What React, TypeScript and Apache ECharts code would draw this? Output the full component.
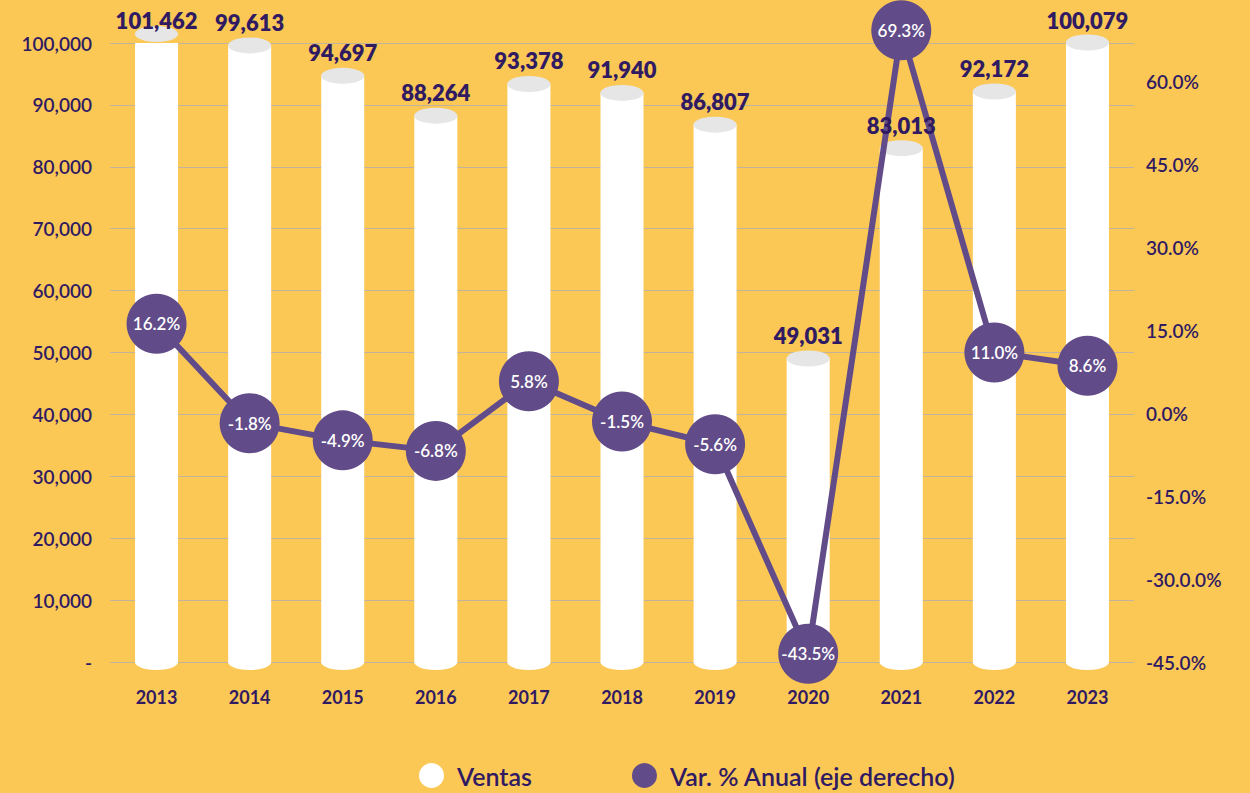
import React, { useEffect, useRef } from "react";
import * as echarts from "echarts";

const years = ["2013", "2014", "2015", "2016", "2017", "2018", "2019", "2020", "2021", "2022", "2023"];
const ventas = [101462, 99613, 94697, 88264, 93378, 91940, 86807, 49031, 83013, 92172, 100079];
const variacion = [16.2, -1.8, -4.9, -6.8, 5.8, -1.5, -5.6, -43.5, 69.3, 11.0, 8.6];
const rightTickLabels = ["-45.0%", "-30.0.0%", "-15.0%", "0.0%", "15.0%", "30.0%", "45.0%", "60.0%"];
const seriesNames = ["Ventas", "Var. % Anual (eje derecho)"];

const BG = "#FBC856";
const DARK = "#301a62";
const PURPLE = "#614b88";
const FONT = "Lato, 'Open Sans', sans-serif";

export default function App() {
  const ref = useRef<HTMLDivElement>(null);
  useEffect(() => {
    const chart = echarts.init(ref.current!, null, { renderer: "svg" });
    chart.setOption({
      animation: false,
      backgroundColor: BG,
      textStyle: { fontFamily: FONT },
      grid: { left: 110, right: 116, top: 43, bottom: 131 },
      legend: {
        data: [
          { name: seriesNames[0], itemStyle: { color: "#ffffff" } },
          { name: seriesNames[1], itemStyle: { color: PURPLE } },
        ],
        icon: "circle",
        itemWidth: 25,
        itemHeight: 25,
        itemGap: 100,
        left: 414,
        top: 758,
        textStyle: {
          color: DARK,
          fontSize: 25,
          fontWeight: 600,
          fontFamily: FONT,
          padding: [0, 0, 0, 8],
        },
      },
      xAxis: {
        type: "category",
        data: years,
        axisLine: { show: false },
        axisTick: { show: false },
        axisLabel: { color: DARK, fontSize: 18, fontWeight: 700, margin: 26, fontFamily: FONT },
      },
      yAxis: [
        {
          type: "value",
          min: 0,
          max: 100000,
          interval: 10000,
          axisLine: { show: false },
          axisTick: { show: false },
          splitLine: { lineStyle: { color: "#c4b39c", width: 1 } },
          axisLabel: {
            color: DARK,
            fontSize: 19,
            fontWeight: 600,
            margin: 18,
            fontFamily: FONT,
            formatter: (v: number) => (v === 0 ? "-" : v.toLocaleString("en-US")),
          },
        },
        {
          type: "value",
          min: -45,
          max: 67,
          interval: 15,
          axisLine: { show: false },
          axisTick: { show: false },
          splitLine: { show: false },
          axisLabel: {
            color: DARK,
            fontSize: 19,
            fontWeight: 600,
            margin: 12,
            fontFamily: FONT,
            showMaxLabel: false,
            formatter: (v: number) => {
              const i = Math.round((v + 45) / 15);
              return Math.abs((v + 45) / 15 - i) < 1e-6 && rightTickLabels[i] ? rightTickLabels[i] : "";
            },
          },
        },
      ],
      series: [
        {
          name: seriesNames[0],
          type: "bar",
          data: ventas,
          barWidth: 43,
          itemStyle: { color: "#ffffff" },
          z: 2,
        },
        {
          name: "top",
          type: "pictorialBar",
          data: ventas,
          symbol: "circle",
          symbolSize: [43, 16],
          symbolPosition: "end",
          symbolOffset: [0, "-50%"],
          itemStyle: { color: "#e6e6e6" },
          z: 3,
          silent: true,
        },
        {
          name: "bottom",
          type: "pictorialBar",
          data: ventas,
          symbol: "circle",
          symbolSize: [43, 16],
          symbolPosition: "start",
          symbolOffset: [0, "50%"],
          itemStyle: { color: "#ffffff" },
          z: 1,
          silent: true,
        },
        {
          name: seriesNames[1],
          type: "line",
          yAxisIndex: 1,
          data: variacion,
          symbol: "circle",
          symbolSize: 60,
          clip: false,
          lineStyle: { color: PURPLE, width: 6 },
          itemStyle: { color: PURPLE },
          z: 5,
          label: {
            show: true,
            position: "inside",
            color: "#ffffff",
            fontSize: 17,
            fontWeight: 600,
            fontFamily: FONT,
            formatter: (p: any) => p.value.toFixed(1) + "%",
          },
        },
        {
          name: "labels",
          type: "bar",
          data: ventas,
          barWidth: 43,
          barGap: "-100%",
          itemStyle: { color: "rgba(0,0,0,0)" },
          silent: true,
          z: 10,
          label: {
            show: true,
            position: "top",
            distance: 12,
            color: DARK,
            fontSize: 22,
            fontWeight: 800,
            fontFamily: FONT,
            formatter: (p: any) => p.value.toLocaleString("en-US"),
          },
        },
      ],
    });
    return () => chart.dispose();
  }, []);
  return (
    <div
      ref={ref}
      style={{ position: "fixed", left: 0, top: 0, width: 1250, height: 793 }}
    />
  );
}
